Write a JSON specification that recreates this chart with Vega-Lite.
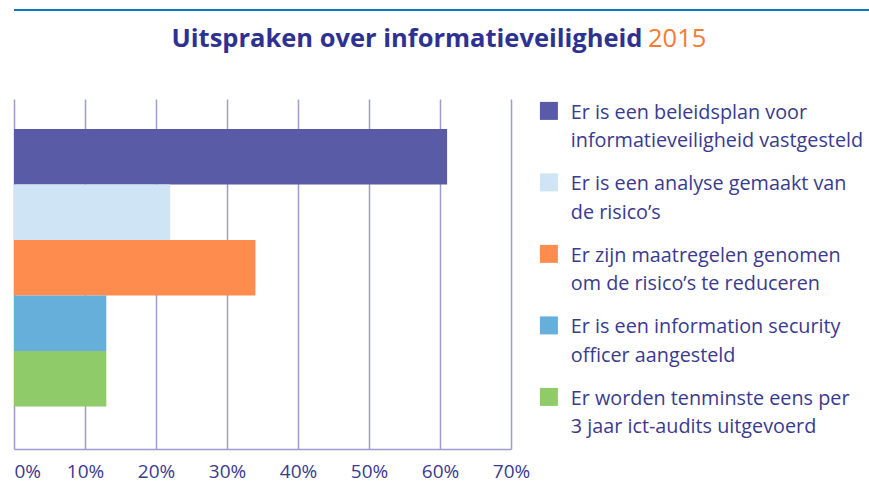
{
  "$schema": "https://vega.github.io/schema/vega-lite/v6.json",
  "padding": {"left": 13, "top": 8, "right": 0, "bottom": 0},
  "background": "white",
  "bounds": "flush",
  "spacing": 88,
  "config": {
    "font": "Open Sans",
    "view": {"stroke": null},
    "style": {"guide-label": {"lineHeight": 28.5, "dy": -8}}
  },
  "resolve": {"legend": {"color": "independent"}, "scale": {"color": "independent"}},
  "vconcat": [
    {
      "width": 856,
      "height": 2,
      "view": {"fill": "#0a78c2", "stroke": null},
      "data": {"values": [{}]},
      "mark": {"type": "rule", "opacity": 0},
      "encoding": {},
      "title": {
        "text": "Uitspraken over informatieveiligheid",
        "orient": "bottom",
        "anchor": "middle",
        "frame": "group",
        "dx": -35,
        "offset": 16,
        "baseline": "top",
        "font": "Open Sans",
        "fontSize": 25.5,
        "fontWeight": "bold",
        "color": "#2e3190"
      }
    },
    {
      "width": 497,
      "height": 350,
      "title": {
        "text": "2015",
        "orient": "top",
        "anchor": "start",
        "frame": "group",
        "dx": 634,
        "offset": 27,
        "baseline": "alphabetic",
        "font": "Open Sans",
        "fontSize": 25.5,
        "fontWeight": "normal",
        "color": "#f47b31"
      },
      "data": {
        "values": [
          {"uitspraak": "Er is een beleidsplan voor|informatieveiligheid vastgesteld", "percentage": 61},
          {"uitspraak": "Er is een analyse gemaakt van|de risico’s", "percentage": 22},
          {"uitspraak": "Er zijn maatregelen genomen|om de risico’s te reduceren", "percentage": 34},
          {"uitspraak": "Er is een information security|officer aangesteld", "percentage": 13},
          {"uitspraak": "Er worden tenminste eens per|3 jaar ict-audits uitgevoerd", "percentage": 13}
        ]
      },
      "mark": {"type": "bar"},
      "encoding": {
        "y": {
          "field": "uitspraak",
          "type": "nominal",
          "sort": null,
          "axis": null,
          "scale": {"paddingInner": 0, "paddingOuter": 0.653, "align": 0.414}
        },
        "x": {
          "field": "percentage",
          "type": "quantitative",
          "scale": {"domain": [0, 70], "nice": false},
          "axis": {
            "title": null,
            "values": [0, 10, 20, 30, 40, 50, 60, 70],
            "labelExpr": "datum.value + '%'",
            "grid": true,
            "gridColor": "#9d9dd0",
            "gridWidth": 1.5,
            "domain": true,
            "domainColor": "#9d9dd0",
            "domainWidth": 1.5,
            "ticks": false,
            "labelFont": "Open Sans",
            "labelFontSize": 19,
            "labelColor": "#3a3a8f",
            "labelPadding": 21,
            "labelFlush": false,
            "labelAlign": {"condition": {"test": "datum.value === 0", "value": "left"}, "value": "center"}
          }
        },
        "color": {
          "field": "uitspraak",
          "type": "nominal",
          "sort": null,
          "scale": {"range": ["#5a5ba7", "#cfe4f4", "#ff8c4f", "#65afda", "#8fcb69"]},
          "legend": {
            "title": null,
            "orient": "right",
            "offset": 26,
            "padding": 2,
            "symbolType": "square",
            "symbolSize": 324,
            "symbolStrokeWidth": 0,
            "symbolOpacity": 1,
            "labelFont": "Open Sans",
            "labelFontSize": 19.8,
            "labelColor": "#3a3a8f",
            "labelOffset": 12,
            "labelLimit": 400,
            "labelBaseline": "top",
            "rowPadding": 20.5,
            "labelExpr": "split(datum.label, '|')"
          }
        }
      }
    }
  ]
}
